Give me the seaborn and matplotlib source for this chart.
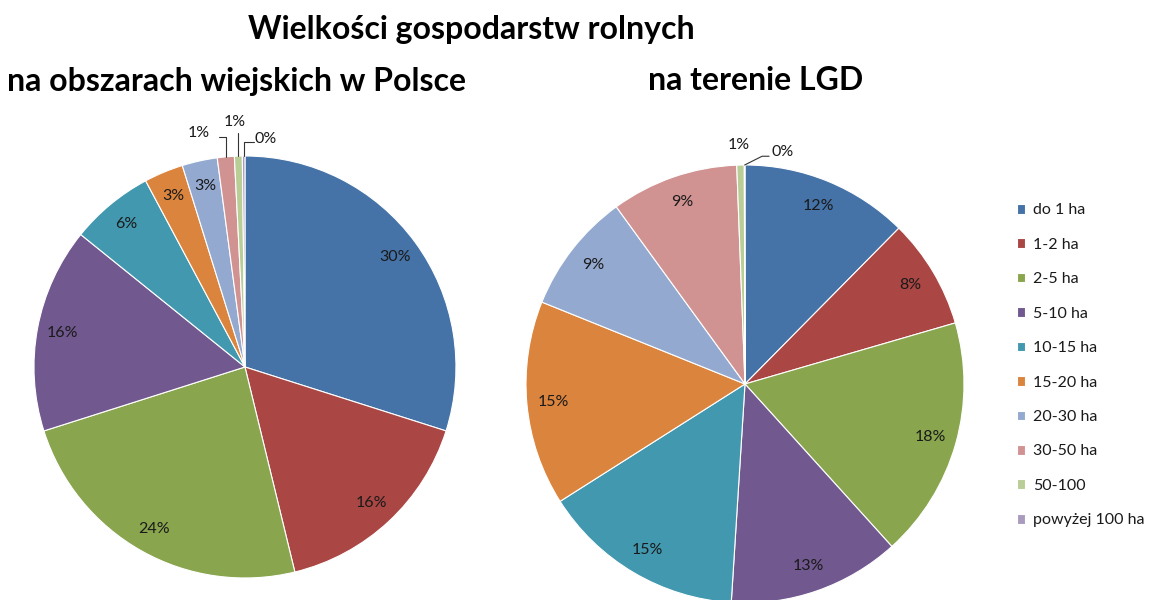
import numpy as np
import matplotlib
matplotlib.use("Agg")
import matplotlib.pyplot as plt
import seaborn as sns

# ── Data ─────────────────────────────────────────────────────
categories = ["do 1 ha", "1-2 ha", "2-5 ha", "5-10 ha", "10-15 ha", "15-20 ha",
              "20-30 ha", "30-50 ha", "50-100", "powyżej 100 ha"]
polska = [29.9, 16.3, 23.9, 15.7, 6.4, 3.0, 2.7, 1.3, 0.6, 0.2]
lgd = [12.4, 8.1, 17.8, 12.7, 15.0, 15.1, 8.9, 9.4, 0.55, 0.05]

title_main = "Wielkości gospodarstw rolnych"
title_left = "na obszarach wiejskich w Polsce"
title_right = "na terenie LGD"

# ── Style ────────────────────────────────────────────────────
sns.set_theme(style="white")
plt.rcParams["font.family"] = ["Lato", "DejaVu Sans"]
COLORS = sns.color_palette(["#4572A7", "#AA4643", "#89A54E", "#71588F", "#4198AF",
                            "#DB843D", "#93A9CF", "#D19392", "#B9CD96", "#A99BBD"])
TXT = "#1a1a1a"
FS = 11.5

fig = plt.figure(figsize=(11.52, 6.0), dpi=100)
fig.patch.set_facecolor("white")


def draw_pie(ax, values, n_inside):
    wedges, _, autotexts = ax.pie(
        values, colors=COLORS, startangle=90, counterclock=False,
        autopct=lambda p: f"{p:.0f}%", pctdistance=0.88,
        wedgeprops=dict(edgecolor="white", linewidth=0.8),
        textprops=dict(color=TXT, fontsize=FS),
    )
    for t in autotexts[n_inside:]:
        t.set_visible(False)
    ax.set_xlim(-1, 1)
    ax.set_ylim(-1, 1)
    ax.set_aspect("auto")
    ax.axis("off")
    return wedges, autotexts


def edge_point(w):
    ang = np.deg2rad((w.theta1 + w.theta2) / 2)
    return np.cos(ang), np.sin(ang)


# ── Left pie: Polska ─────────────────────────────────────────
ax1 = fig.add_axes([0.0295, 0.0367, 0.3663, 0.7033])
w1, at1 = draw_pie(ax1, polska, 7)
# small slices: labels outside with leader lines
ex, ey = edge_point(w1[7])
ax1.plot([ex, ex, ex - 0.03], [ey, 1.09, 1.09], color="#333333", lw=0.8, clip_on=False)
ax1.text(-0.22, 1.11, at1[7].get_text(), ha="center", va="center", fontsize=FS, color=TXT)
ex, ey = edge_point(w1[8])
ax1.plot([ex, ex], [ey, 1.11], color="#333333", lw=0.8, clip_on=False)
ax1.text(-0.05, 1.16, at1[8].get_text(), ha="center", va="center", fontsize=FS, color=TXT)
ex, ey = edge_point(w1[9])
ax1.plot([ex, ex, ex + 0.05], [ey, 1.065, 1.065], color="#333333", lw=0.8, clip_on=False)
ax1.text(0.10, 1.08, at1[9].get_text(), ha="center", va="center", fontsize=FS, color=TXT)

# ── Right pie: LGD ───────────────────────────────────────────
ax2 = fig.add_axes([0.4566, -0.005, 0.3802, 0.73])
w2, at2 = draw_pie(ax2, lgd, 8)
ax2.text(-0.03, 1.09, at2[8].get_text(), ha="center", va="center", fontsize=FS, color=TXT)
ex, ey = edge_point(w2[9])
ax2.plot([ex, 0.078, 0.11], [ey, 1.04, 1.04], color="#333333", lw=0.8, clip_on=False)
ax2.text(0.17, 1.06, at2[9].get_text(), ha="center", va="center", fontsize=FS, color=TXT)

# ── Titles ───────────────────────────────────────────────────
for x, y, s in [(0.409, 0.950, title_main), (0.205, 0.865, title_left),
                (0.656, 0.865, title_right)]:
    fig.text(x, y, s, ha="center", va="center", fontsize=23,
             fontweight="bold", color="black")

# ── Legend ───────────────────────────────────────────────────
fig.legend(w2, categories, loc="upper left", bbox_to_anchor=(0.870, 0.685),
           frameon=False, fontsize=FS, handlelength=0.55, handleheight=0.55,
           handletextpad=0.5, labelspacing=1.28, labelcolor=TXT)

plt.savefig("out.png", dpi=100, facecolor="white")
plt.close()
